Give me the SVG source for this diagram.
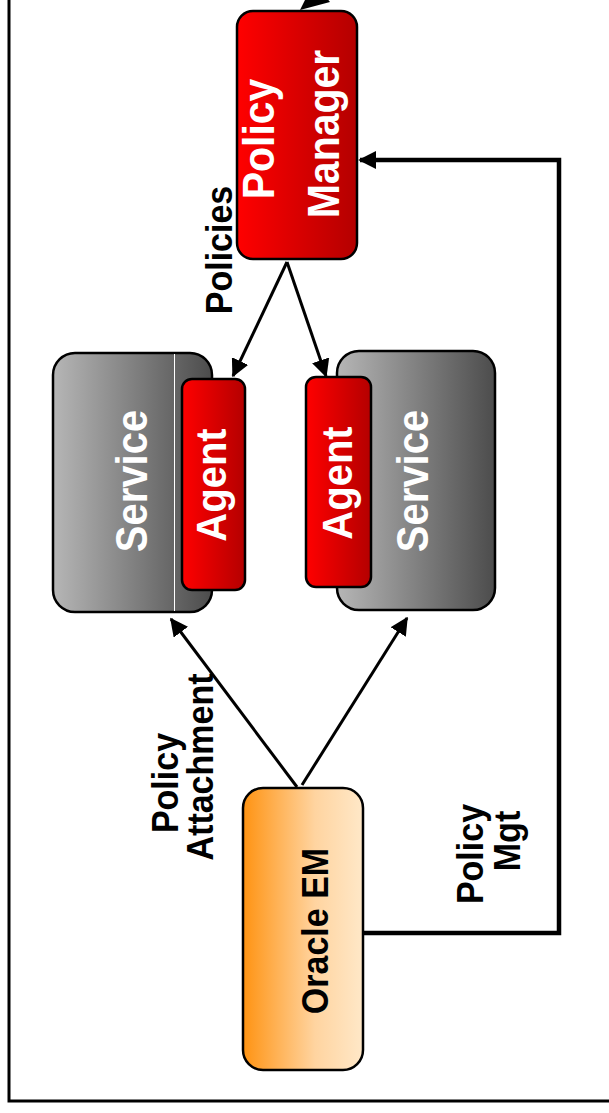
<svg xmlns="http://www.w3.org/2000/svg" width="609" height="1113" viewBox="0 0 609 1113">
<defs>
<linearGradient id="gRed" x1="0" y1="0" x2="1" y2="0"><stop offset="0" stop-color="#ff0000"/><stop offset="1" stop-color="#b40000"/></linearGradient>
<linearGradient id="gGray" x1="0" y1="0" x2="1" y2="0"><stop offset="0" stop-color="#b6b6b6"/><stop offset="1" stop-color="#4c4c4c"/></linearGradient>
<linearGradient id="gOrange" x1="0" y1="0" x2="1" y2="0"><stop offset="0" stop-color="#ff9312"/><stop offset="0.6" stop-color="#ffd4a0"/><stop offset="1" stop-color="#ffe8c8"/></linearGradient>
<marker id="ah" markerWidth="6" markerHeight="6" refX="5.5" refY="3" orient="auto" markerUnits="strokeWidth" viewBox="0 0 6 6"><path d="M0,0 L6,3 L0,6 Z" fill="#000"/></marker>
<marker id="ahB" markerWidth="4" markerHeight="4" refX="3.6" refY="2" orient="auto" markerUnits="strokeWidth" viewBox="0 0 4 4"><path d="M0,0 L4,2 L0,4 Z" fill="#000"/></marker>
</defs>
<style>
.box{stroke:#000;stroke-width:2.5}
.wt{font-family:"Liberation Sans",Arial,sans-serif;font-weight:bold;fill:#fff;text-anchor:middle}
.bt{font-family:"Liberation Sans",Arial,sans-serif;font-weight:bold;fill:#000;text-anchor:middle}
.conn{stroke:#000;fill:none}
</style>
<rect width="609" height="1113" fill="#fff"/>
<g id="frame"><path d="M9,0 V1101 H609" fill="none" stroke="#000" stroke-width="3"/></g>
<g id="connectors">
<path class="conn" stroke-width="3" d="M360,-40 L322,-8"/>
<polygon points="300,10 330,2 314,-18" fill="#000"/>
<path class="conn" stroke-width="3" d="M287,262 L233,376" marker-end="url(#ah)"/>
<path class="conn" stroke-width="3" d="M287,262 L326,376" marker-end="url(#ah)"/>
<path class="conn" stroke-width="3" d="M297,787 L171,619" marker-end="url(#ah)"/>
<path class="conn" stroke-width="3" d="M302,785 L407,618" marker-end="url(#ah)"/>
<path class="conn" stroke-width="4.5" d="M363,933 H559 V160 H360" marker-end="url(#ahB)"/>
</g>
<g id="labels">
<text class="bt" font-size="34" transform="translate(232,250) rotate(-90) scale(1,1.08)">Policies</text>
<text class="bt" font-size="34" transform="translate(178,783) rotate(-90) scale(1,1.08)">Policy</text>
<text class="bt" font-size="34" transform="translate(213,767) rotate(-90) scale(1,1.08)">Attachment</text>
<text class="bt" font-size="34" transform="translate(483,854) rotate(-90) scale(1,1.08)">Policy</text>
<text class="bt" font-size="34" transform="translate(520,841) rotate(-90) scale(1,1.08)">Mgt</text>
</g>
<g id="policy-manager">
<rect class="box" x="237" y="11" width="120" height="248" rx="16" fill="url(#gRed)"/>
<text class="wt" font-size="41" transform="translate(274,139) rotate(-90) scale(1,1.08)">Policy</text>
<text class="wt" font-size="41" transform="translate(339,134) rotate(-90) scale(1,1.08)">Manager</text>
</g>
<g id="service-left">
<rect class="box" x="53" y="353" width="159" height="259" rx="22" fill="url(#gGray)"/>
<line x1="174.5" y1="354" x2="174.5" y2="611" stroke="#fff" stroke-width="1"/>
<text class="wt" font-size="40" transform="translate(147,481) rotate(-90) scale(1,1.1)">Service</text>
</g>
<g id="agent-left">
<rect class="box" x="182" y="379" width="63" height="211" rx="10" fill="url(#gRed)"/>
<text class="wt" font-size="40" transform="translate(226,485) rotate(-90) scale(1,1.08)">Agent</text>
</g>
<g id="service-right">
<rect class="box" x="337" y="351" width="158" height="259" rx="22" fill="url(#gGray)"/>
<text class="wt" font-size="40" transform="translate(428,481) rotate(-90) scale(1,1.1)">Service</text>
</g>
<g id="agent-right">
<rect class="box" x="306" y="377" width="65" height="210" rx="10" fill="url(#gRed)"/>
<text class="wt" font-size="40" transform="translate(352,483) rotate(-90) scale(1,1.08)">Agent</text>
</g>
<g id="oracle-em">
<rect class="box" x="243" y="788" width="120" height="282" rx="20" fill="url(#gOrange)"/>
<text class="bt" font-size="34" transform="translate(328,931) rotate(-90) scale(1,1.08)">Oracle EM</text>
</g>
</svg>
